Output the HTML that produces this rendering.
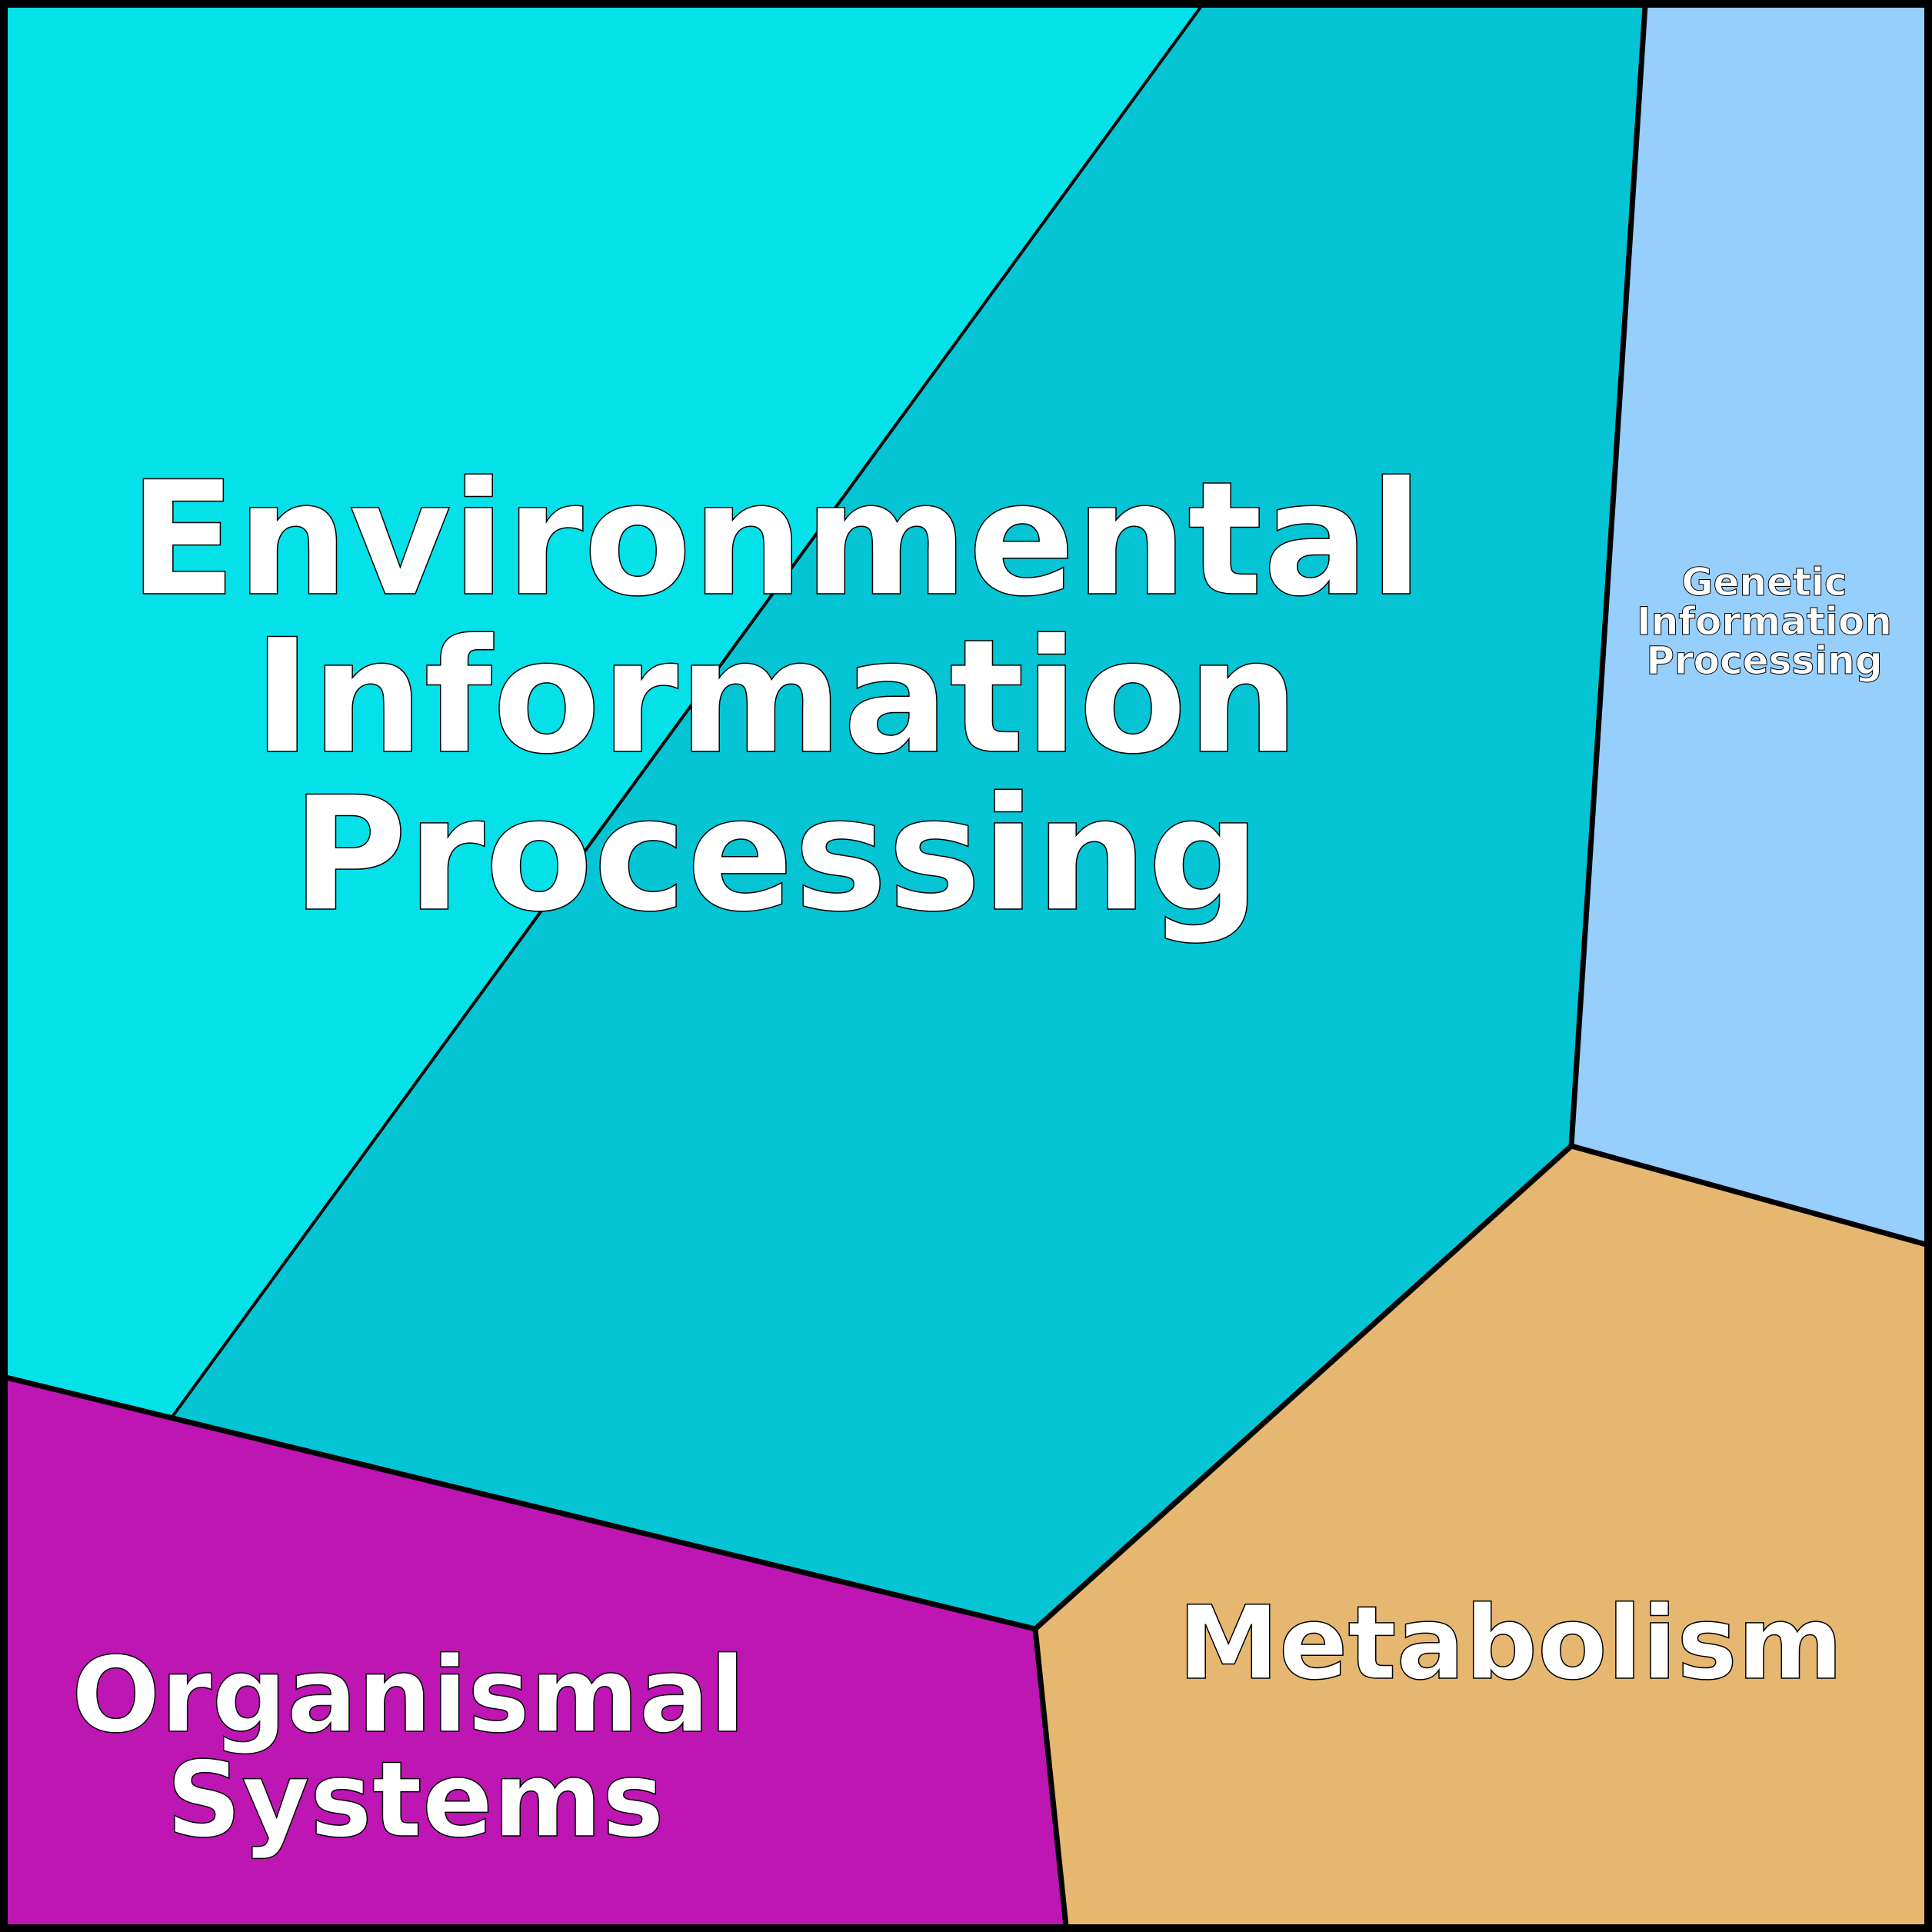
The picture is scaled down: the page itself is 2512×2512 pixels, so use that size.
<!DOCTYPE html>
<html><head><meta charset="utf-8"><style>html,body{margin:0;padding:0;background:#fff}svg{display:block}</style></head><body>
<svg width="2512" height="2512" viewBox="0 0 2512 2512" xmlns="http://www.w3.org/2000/svg">
<polygon points="8,8 1562,8 224,1842 8,1791" fill="#05E1E8"/>
<polygon points="1562,8 2139,8 2043,1490 1346,2118 224,1842" fill="#05C4D4"/>
<polygon points="2139,8 2504,8 2504,1618 2043,1490" fill="#96CEFC"/>
<polygon points="2043,1490 2504,1618 2504,2504 1386,2504 1346,2118" fill="#E5B770"/>
<polygon points="8,1791 1346,2118 1386,2504 8,2504" fill="#BD16B3"/>
<g stroke="#000" fill="none">
<line x1="1562" y1="8" x2="224" y2="1842" stroke-width="4"/>
<line x1="2139" y1="8" x2="2043" y2="1490" stroke-width="7"/>
<line x1="2043" y1="1490" x2="2504" y2="1618" stroke-width="7"/>
<line x1="2043" y1="1490" x2="1346" y2="2118" stroke-width="7"/>
<line x1="1346" y1="2118" x2="1386" y2="2504" stroke-width="7"/>
<line x1="8" y1="1791" x2="1346" y2="2118" stroke-width="7"/>
<rect x="5" y="5" width="2502" height="2502" stroke-width="10"/>
</g>
<g font-family="'DejaVu Sans','Liberation Sans',sans-serif" font-weight="bold" fill="#fff" stroke="#000" text-anchor="middle">
<g font-size="205" stroke-width="1.5">
<text x="1009" y="772">Environmental</text>
<text x="1009" y="977">Information</text>
<text x="1009" y="1182">Processing</text>
</g>
<g font-size="50" stroke-width="1">
<text x="2294" y="774">Genetic</text>
<text x="2294" y="825">Information</text>
<text x="2294" y="876">Processing</text>
</g>
<text x="1964" y="2182" font-size="132" stroke-width="1.5">Metabolism</text>
<g font-size="136" stroke-width="1.5">
<text x="531" y="2251">Organismal</text>
<text x="540" y="2387">Systems</text>
</g>
</g>
</svg>
</body></html>
